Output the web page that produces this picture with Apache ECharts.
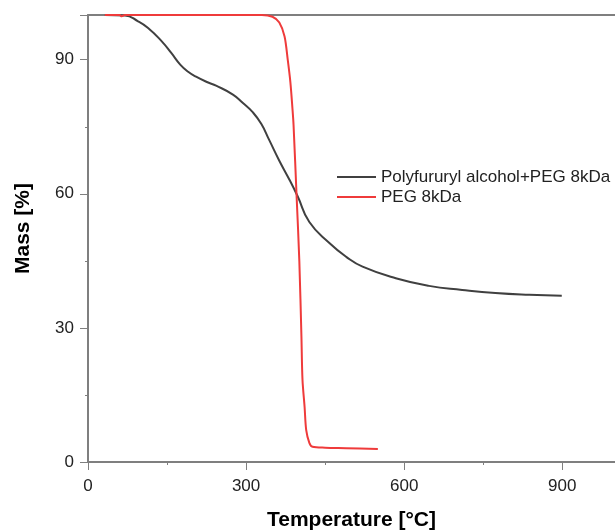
<!DOCTYPE html>
<html>
<head>
<meta charset="utf-8">
<script src="https://cdn.jsdelivr.net/npm/echarts@6/dist/echarts.min.js"></script>
<style>
html,body{margin:0;padding:0;background:#fff;}
#chart{width:615px;height:532px;}
</style>
</head>
<body>
<div id="chart"></div>
<script>
// Temperature [°C], Mass [%]
const seriesNames = ['Polyfururyl alcohol+PEG 8kDa', 'PEG 8kDa'];
const pfaTemp = [32,70,95,114,140,158,175,190,205,228,243,275,294,313,329,344,363,382,398,420,458,490,521,584,647,710,773,837,899];
const pfaMass = [100,99.9,98.6,97.1,94.1,91.5,88.9,87.3,86.2,84.9,84.2,82.2,80.3,78.2,75.6,72.0,67.4,63.2,59.4,53.7,49,45.9,43.7,41.1,39.4,38.5,37.8,37.4,37.2];
const pegTemp = [32,60,64,70,200,330,350,363,373,379,384,388,390,396,401,405,407,411,414,420,426,450,490,550];
const pegMass = [100,100,99.7,100,100,100,99.6,98.3,95.2,90,85,79,75.5,59,45,28,18.4,12.3,7.2,4.3,3.4,3.2,3.1,2.9];
const xTicks = [0,300,600,900];
const yTicks = [0,30,60,90];

const pair = (xs, ys) => xs.map((x, i) => [x, ys[i]]);
const axisColor = '#7f7f7f';
const font = 'Liberation Sans, Arial, sans-serif';

const chart = echarts.init(document.getElementById('chart'), null, {renderer: 'canvas'});
chart.setOption({
  animation: false,
  backgroundColor: '#ffffff',
  grid: {left: 88, right: 0, top: 15, bottom: 70, containLabel: false, outerBoundsMode: 'none'},
  legend: {
    orient: 'vertical', left: 337, top: 167, padding: 0,
    itemWidth: 39, itemHeight: 2, itemGap: 0,
    icon: 'rect',
    textStyle: {fontFamily: font, fontSize: 17, color: '#222', lineHeight: 20},
    data: seriesNames
  },
  xAxis: [{
    type: 'value', min: 0, max: 1000, interval: 300,
    name: 'Temperature [°C]', nameLocation: 'middle', nameGap: 48,
    nameTextStyle: {fontFamily: font, fontSize: 21, fontWeight: 'bold', color: '#000'},
    axisLine: {show: true, lineStyle: {color: axisColor, width: 2}},
    axisTick: {show: true, length: 8, inside: false, lineStyle: {color: axisColor, width: 1}},
    minorTick: {show: true, splitNumber: 2, length: 3, lineStyle: {color: axisColor, width: 1}},
    axisLabel: {fontFamily: font, fontSize: 17, color: '#222', margin: 16, showMaxLabel: false,
      formatter: v => xTicks.includes(v) ? String(v) : ''},
    splitLine: {show: false}
  }, {
    type: 'value', position: 'top', min: 0, max: 1000,
    axisLine: {show: true, onZero: false, lineStyle: {color: axisColor, width: 2}},
    axisTick: {show: false}, axisLabel: {show: false}, splitLine: {show: false}
  }],
  yAxis: {
    type: 'value', min: 0, max: 100, interval: 30,
    name: 'Mass [%]', nameLocation: 'middle', nameGap: 54,
    nameTextStyle: {fontFamily: font, fontSize: 21, fontWeight: 'bold', color: '#000', padding: [0,0,0,20]},
    axisLine: {show: true, lineStyle: {color: axisColor, width: 2}},
    axisTick: {show: true, length: 8, lineStyle: {color: axisColor, width: 1}},
    minorTick: {show: true, splitNumber: 2, length: 3, lineStyle: {color: axisColor, width: 1}},
    axisLabel: {fontFamily: font, fontSize: 17, color: '#222', margin: 14, showMaxLabel: false,
      formatter: v => yTicks.includes(v) ? String(v) : ''},
    splitLine: {show: false}
  },
  series: [{
    name: seriesNames[0], type: 'line', data: pair(pfaTemp, pfaMass),
    smooth: 0.5, showSymbol: false, symbol: 'none',
    lineStyle: {color: '#404040', width: 2}, itemStyle: {color: '#404040'}
  }, {
    name: seriesNames[1], type: 'line', data: pair(pegTemp, pegMass),
    smooth: 0.3, showSymbol: false, symbol: 'none',
    lineStyle: {color: '#ef3b3b', width: 2}, itemStyle: {color: '#ef3b3b'}
  }]
});
</script>
</body>
</html>
